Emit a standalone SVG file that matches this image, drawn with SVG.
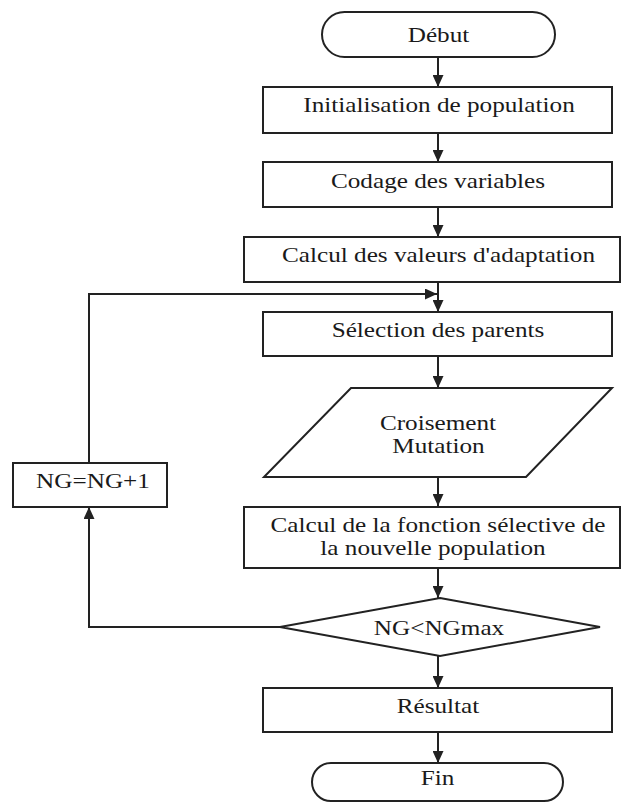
<svg xmlns="http://www.w3.org/2000/svg" width="622" height="806" viewBox="0 0 622 806">
<style>
.s{fill:#fff;stroke:#222;stroke-width:2}
.t{font-family:"Liberation Serif","Times New Roman",serif;font-size:21px;fill:#1a1a1a;text-anchor:middle}
.c{fill:none;stroke:#222;stroke-width:2}
</style>
<defs>
<marker id="ah" markerUnits="userSpaceOnUse" markerWidth="13" markerHeight="11" refX="12" refY="5.5" orient="auto">
<path d="M0,0 L12,5.5 L0,11 z" fill="#222"/>
</marker>
</defs>
<rect width="622" height="806" fill="#fff"/>
<g id="connectors">
<line class="c" x1="438" y1="57" x2="438" y2="87" marker-end="url(#ah)"/>
<line class="c" x1="438" y1="133" x2="438" y2="162" marker-end="url(#ah)"/>
<line class="c" x1="438" y1="207" x2="438" y2="237" marker-end="url(#ah)"/>
<line class="c" x1="438" y1="282" x2="438" y2="312" marker-end="url(#ah)"/>
<line class="c" x1="438" y1="356" x2="438" y2="388" marker-end="url(#ah)"/>
<line class="c" x1="438" y1="477" x2="438" y2="506" marker-end="url(#ah)"/>
<line class="c" x1="438" y1="568" x2="438" y2="598" marker-end="url(#ah)"/>
<line class="c" x1="438" y1="656" x2="438" y2="688" marker-end="url(#ah)"/>
<line class="c" x1="438" y1="732" x2="438" y2="763" marker-end="url(#ah)"/>
<polyline class="c" points="280,627 89,627 89,507" marker-end="url(#ah)"/>
<polyline class="c" points="89,463 89,294 437,294" marker-end="url(#ah)"/>
</g>
<g id="debut">
<rect class="s" x="322" y="12" width="233" height="45" rx="22.5" ry="22.5"/>
<text class="t" transform="translate(438.5,42) scale(1.2,1)">Début</text>
</g>
<g id="init">
<rect class="s" x="263" y="87" width="349" height="46"/>
<text class="t" transform="translate(439,112) scale(1.2,1)">Initialisation de population</text>
</g>
<g id="codage">
<rect class="s" x="263" y="162" width="349" height="45"/>
<text class="t" transform="translate(438,188) scale(1.2,1)">Codage des variables</text>
</g>
<g id="calcul">
<rect class="s" x="244" y="237" width="376" height="45"/>
<text class="t" transform="translate(438.5,262) scale(1.2,1)">Calcul des valeurs d'adaptation</text>
</g>
<g id="selection">
<rect class="s" x="263" y="312" width="349" height="44"/>
<text class="t" transform="translate(438,337) scale(1.2,1)">Sélection des parents</text>
</g>
<g id="croisement">
<polygon class="s" points="351,388 612,388 526,477 264,477"/>
<text class="t" transform="translate(438,430) scale(1.2,1)">Croisement</text>
<text class="t" transform="translate(438.5,453) scale(1.2,1)">Mutation</text>
</g>
<g id="fonction">
<rect class="s" x="244" y="507" width="376" height="61"/>
<text class="t" transform="translate(438,532) scale(1.2,1)">Calcul de la fonction sélective de</text>
<text class="t" transform="translate(433,555) scale(1.2,1)">la nouvelle population</text>
</g>
<g id="test">
<polygon class="s" points="440,598 600,627 440,656 280,627"/>
<text class="t" transform="translate(439,635) scale(1.2,1)">NG&lt;NGmax</text>
</g>
<g id="resultat">
<rect class="s" x="263" y="688" width="349" height="44"/>
<text class="t" transform="translate(438,713) scale(1.2,1)">Résultat</text>
</g>
<g id="fin">
<rect class="s" x="312" y="763" width="251" height="38" rx="19" ry="19"/>
<text class="t" transform="translate(437.5,785) scale(1.2,1)">Fin</text>
</g>
<g id="ng">
<rect class="s" x="13" y="463" width="154" height="44"/>
<text class="t" transform="translate(93,488) scale(1.2,1)">NG=NG+1</text>
</g>
</svg>
